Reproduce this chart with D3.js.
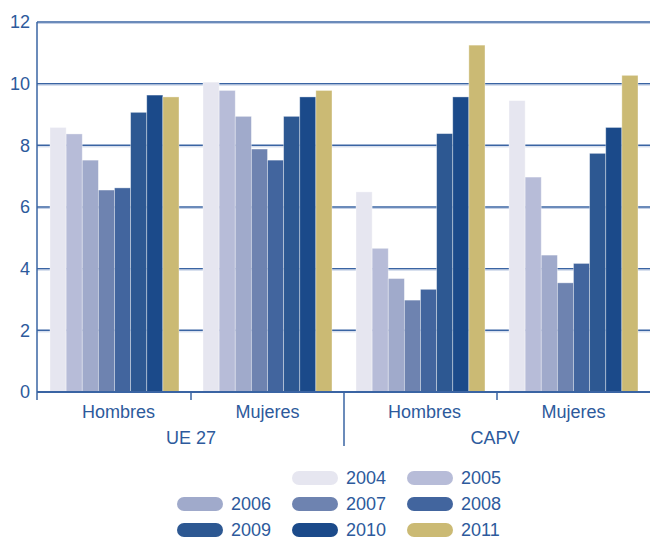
<!DOCTYPE html>
<html><head><meta charset="utf-8">
<script src="https://cdn.jsdelivr.net/npm/d3@7"></script>
<style>body{margin:0;background:#fff}text{font-family:"Liberation Sans",Arial,sans-serif}</style>
</head><body>
<svg id="c" width="650" height="540"></svg>
<script>
const groups = ["UE 27", "CAPV"];
const categories = ["Hombres", "Mujeres", "Hombres", "Mujeres"];
const years = ["2004","2005","2006","2007","2008","2009","2010","2011"];
const ue27Hombres = [8.58, 8.37, 7.52, 6.55, 6.62, 9.07, 9.63, 9.57];
const ue27Mujeres = [10.05, 9.78, 8.94, 7.88, 7.52, 8.94, 9.57, 9.78];
const capvHombres = [6.49, 4.66, 3.68, 2.98, 3.33, 8.38, 9.57, 11.25];
const capvMujeres = [9.45, 6.97, 4.44, 3.54, 4.17, 7.74, 8.58, 10.27];
const yTicks = [0, 2, 4, 6, 8, 10, 12];
const colors = ["#e6e6f0","#b7bcd8","#a0aacb","#6e83b0","#42659e","#2d5892","#1b4a8a","#cbba74"];

(function () {
const series = [ue27Hombres, ue27Mujeres, capvHombres, capvMujeres];
const svg = d3.select("#c");
const textColor = "#2d5a9c", axisColor = "#3a64a3";
const fs = 18;

const pLeft = 37, pRight = 650, pTop = 22, pBottom = 392;
const x0 = d3.scaleBand().domain(d3.range(4)).range([38, 650]).paddingInner(0.157).paddingOuter(0.0785);
const x1 = d3.scaleBand().domain(years).range([0, x0.bandwidth()]);
const y = d3.scaleLinear().domain([0, 12]).range([pBottom, pTop]);

// gridlines
svg.append("g").selectAll("line").data(yTicks.filter(d => d > 0)).join("line")
  .attr("x1", pLeft).attr("x2", pRight).attr("y1", d => y(d)).attr("y2", d => y(d))
  .attr("stroke", axisColor).attr("stroke-width", 1.5);
svg.append("g").selectAll("line").data(yTicks.filter(d => d > 0)).join("line")
  .attr("x1", pLeft).attr("x2", pRight).attr("y1", d => y(d) + 1.5).attr("y2", d => y(d) + 1.5)
  .attr("stroke", "#c4d0e6").attr("stroke-width", 1);

// bars
const g = svg.append("g");
series.forEach((vals, gi) => {
  g.append("g").attr("transform", `translate(${x0(gi)},0)`)
    .selectAll("rect").data(vals.map((v, i) => ({v, year: years[i], i}))).join("rect")
    .attr("x", d => x1(d.year)).attr("width", x1.bandwidth())
    .attr("y", d => y(d.v)).attr("height", d => y(0) - y(d.v))
    .attr("fill", d => colors[d.i]).attr("stroke", "rgba(255,255,255,0.45)").attr("stroke-width", 0.8);
});

// y axis
const ya = svg.append("g").attr("transform", `translate(${pLeft},0)`)
  .call(d3.axisLeft(y).tickValues(yTicks).tickSize(0).tickPadding(7));
ya.select(".domain").attr("stroke", axisColor).attr("stroke-width", 1.5).attr("d", `M0,${pTop}V${pBottom + 8}`);
ya.selectAll("text").attr("fill", textColor).attr("font-size", fs).attr("font-family", "Liberation Sans, Arial, sans-serif");

// bottom axis line
svg.append("line").attr("x1", pLeft).attr("x2", pRight).attr("y1", pBottom).attr("y2", pBottom)
  .attr("stroke", axisColor).attr("stroke-width", 2);
// separators
const sepX = [ (x0(0) + x0.bandwidth() + x0(1)) / 2, (x0(2) + x0.bandwidth() + x0(3)) / 2 ];
svg.selectAll(".sep").data(sepX).join("line").attr("x1", d => d).attr("x2", d => d)
  .attr("y1", pBottom).attr("y2", pBottom + 8).attr("stroke", axisColor).attr("stroke-width", 1.5);
const midX = (x0(1) + x0.bandwidth() + x0(2)) / 2;
svg.append("line").attr("x1", midX).attr("x2", midX).attr("y1", pBottom).attr("y2", 446)
  .attr("stroke", axisColor).attr("stroke-width", 1.5);

// category labels
svg.selectAll(".cat").data(categories).join("text")
  .attr("x", (d, i) => x0(i) + x0.bandwidth() / 2 + (i % 2 === 0 ? 4 : 0)).attr("y", 418)
  .attr("text-anchor", "middle").attr("font-size", fs).attr("fill", textColor).text(d => d);
svg.selectAll(".grp").data(groups).join("text")
  .attr("x", (d, i) => (x0(i * 2) + x0(i * 2 + 1) + x0.bandwidth()) / 2 + (i === 0 ? 0 : -2)).attr("y", 444)
  .attr("text-anchor", "middle").attr("font-size", fs).attr("fill", textColor).text(d => d);

// legend
const lg = svg.append("g");
years.forEach((yr, i) => {
  const p = i + 1, col = p % 3, row = Math.floor(p / 3);
  const lx = 177 + col * 115, ly = 478 + row * 26;
  lg.append("rect").attr("x", lx).attr("y", ly - 7).attr("width", 46).attr("height", 14)
    .attr("rx", 7).attr("fill", colors[i]);
  lg.append("text").attr("x", lx + 54).attr("y", ly + 5.5).attr("font-size", fs)
    .attr("fill", textColor).text(yr);
});
})();
</script>
</body></html>
